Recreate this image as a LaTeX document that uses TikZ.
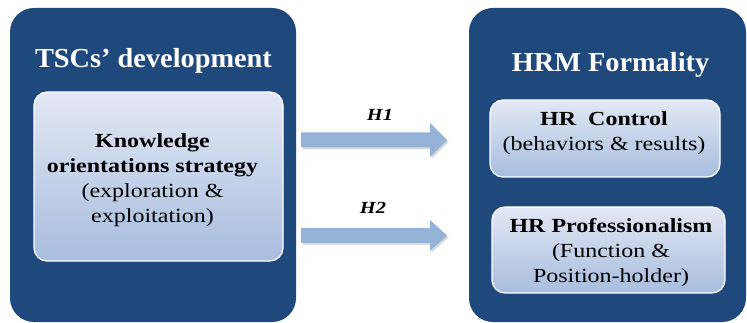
\documentclass[tikz,border=0pt]{standalone}
\usepackage{fontspec}
\setmainfont{Liberation Serif}[FakeStretch=1.2]
\newfontfamily\titlefont{Liberation Serif}[FakeStretch=1.03]
\usetikzlibrary{shadows}
\definecolor{outerblue}{HTML}{1F497D}
\definecolor{innertop}{HTML}{E2E8F4}
\definecolor{innerbot}{HTML}{A8BDDE}
\definecolor{arrowblue}{HTML}{95B3D7}
\tikzset{
  outerbox/.style={fill=outerblue, draw=none, rounded corners=24pt},
  innerbox/.style={top color=innertop, bottom color=innerbot, draw=white, line width=1.2pt, rounded corners=13pt},
  titletext/.style={font=\titlefont\fontsize{27.5}{32}\selectfont\bfseries, text=white, anchor=base, inner sep=0pt},
  boxtext/.style={font=\fontsize{20}{25}\selectfont, align=center, inner sep=0pt, text=black},
  hlabel/.style={font=\fontsize{17}{20}\selectfont\bfseries\itshape, inner sep=0pt},
  blockarrow/.style={fill=arrowblue, draw=none, drop shadow={shadow xshift=1.5pt, shadow yshift=-1.8pt, opacity=0.3}}
}
\begin{document}
\begin{tikzpicture}[x=1pt,y=-1pt]
\useasboundingbox (0,0) rectangle (747,323);
% outer boxes
\node[outerbox, minimum width=286pt, minimum height=314pt] (L) at (153,165) {};
\node[outerbox, minimum width=277pt, minimum height=314pt] (R) at (607.5,165) {};
% titles
\node[titletext] (Lt) at (153.5,68) {TSCs’ development};
\node[titletext] (Rt) at (610.5,72) {HRM Formality};
% inner boxes
\node[innerbox, minimum width=249pt, minimum height=169pt] (K) at (158.5,176.5) {};
\node[innerbox, minimum width=230pt, minimum height=77pt] (C) at (605,138.5) {};
\node[innerbox, minimum width=233pt, minimum height=86pt] (P) at (608.5,250) {};
% texts
\node[boxtext] (Kt) at (152.5,180) {\textbf{Knowledge}\\\textbf{orientations strategy}\\(exploration \&\\exploitation)};
\node[boxtext] (Ct) at (604,133) {\textbf{HR\ \ Control}\\(behaviors \& results)};
\node[boxtext] (Pt) at (611,252.5) {\textbf{HR Professionalism}\\(Function \&\\Position-holder)};
% block arrows
\fill[blockarrow] (301,132.5) -- (430,132.5) -- (430,123) -- (447,140) -- (430,157) -- (430,147.5) -- (301,147.5) -- cycle;
\fill[blockarrow] (301,228) -- (430,228) -- (430,220) -- (447,235.5) -- (430,251) -- (430,243) -- (301,243) -- cycle;
\node[hlabel] (h1) at (380,115) {H1};
\node[hlabel] (h2) at (373,208) {H2};
\end{tikzpicture}
\end{document}
